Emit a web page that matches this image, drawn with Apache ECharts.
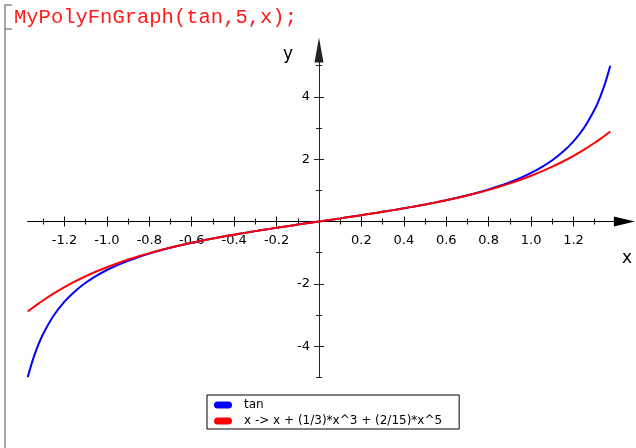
<!DOCTYPE html>
<html>
<head>
<meta charset="utf-8">
<script src="https://cdn.jsdelivr.net/npm/echarts@6/dist/echarts.min.js"></script>
<style>
  html, body { margin: 0; padding: 0; background: #fff; }
  #main { width: 636px; height: 448px; }
</style>
</head>
<body>
<div id="main"></div>
<script>
// sample points (x, tan and degree-5 polynomial)
const xValues = [-1.3734, -1.35, -1.325, -1.3, -1.25, -1.2, -1.15, -1.1, -1.05, -1.0,
  -0.95, -0.9, -0.85, -0.8, -0.75, -0.7, -0.65, -0.6, -0.55, -0.5,
  -0.45, -0.4, -0.35, -0.3, -0.25, -0.2, -0.15, -0.1, -0.05, 0,
  0.05, 0.1, 0.15, 0.2, 0.25, 0.3, 0.35, 0.4, 0.45, 0.5,
  0.55, 0.6, 0.65, 0.7, 0.75, 0.8, 0.85, 0.9, 0.95, 1.0,
  1.05, 1.1, 1.15, 1.2, 1.25, 1.3, 1.325, 1.35, 1.3734];

const tanValues = [-5.0, -4.455, -3.986, -3.602, -3.010, -2.572, -2.235, -1.965, -1.743, -1.557,
  -1.398, -1.260, -1.138, -1.030, -0.932, -0.842, -0.760, -0.684, -0.613, -0.546,
  -0.483, -0.423, -0.365, -0.309, -0.255, -0.203, -0.151, -0.100, -0.050, 0,
  0.050, 0.100, 0.151, 0.203, 0.255, 0.309, 0.365, 0.423, 0.483, 0.546,
  0.613, 0.684, 0.760, 0.842, 0.932, 1.030, 1.138, 1.260, 1.398, 1.557,
  1.743, 1.965, 2.235, 2.572, 3.010, 3.602, 3.986, 4.455, 5.0];

const polyValues = [-2.888, -2.768, -2.645, -2.527, -2.308, -2.108, -1.925, -1.758, -1.606, -1.467,
  -1.339, -1.222, -1.114, -1.014, -0.922, -0.837, -0.757, -0.682, -0.612, -0.546,
  -0.483, -0.423, -0.365, -0.309, -0.255, -0.203, -0.151, -0.100, -0.050, 0,
  0.050, 0.100, 0.151, 0.203, 0.255, 0.309, 0.365, 0.423, 0.483, 0.546,
  0.612, 0.682, 0.757, 0.837, 0.922, 1.014, 1.114, 1.222, 1.339, 1.467,
  1.606, 1.758, 1.925, 2.108, 2.308, 2.527, 2.645, 2.768, 2.888];

const seriesNames = ['tan', 'x -> x + (1/3)*x^3 + (2/15)*x^5'];

// tick marks and labels
const xMajorTicks = [-1.2, -1.0, -0.8, -0.6, -0.4, -0.2, 0.2, 0.4, 0.6, 0.8, 1.0, 1.2];
const xMinorTicks = [-1.3, -1.1, -0.9, -0.7, -0.5, -0.3, -0.1, 0.1, 0.3, 0.5, 0.7, 0.9, 1.1, 1.3];
const xLabels = [-1.2, -1.0, -0.8, -0.6, -0.4, -0.2, 0.2, 0.4, 0.6, 0.8, 1.0, 1.2];
const yMajorTicks = [-4, -2, 2, 4];
const yMinorTicks = [-5, -3, -1, 1, 3, 5];
const yLabels = [-4, -2, 2, 4];

const X_MIN = -1.3734, X_MAX = 1.44;
const Y_MIN = -5, Y_MAX = 5.5;
const FONT = 'DejaVu Sans';

// grid box (px) and where the zero lines fall inside it
const G = { left: 27.7, right: 11.6, top: 50.1, bottom: 70.7 };
const W = 636, H = 448;
const gw = W - G.left - G.right, gh = H - G.top - G.bottom;
const zeroX = G.left + (0 - X_MIN) / (X_MAX - X_MIN) * gw;
const zeroY = G.top + (Y_MAX - 0) / (Y_MAX - Y_MIN) * gh;

const chart = echarts.init(document.getElementById('main'), null, { renderer: 'canvas' });

// axes are pushed onto the zero lines with offset
function xAxisOf(position, ticks, len, withLine, withLabels) {
  const off = position === 'bottom' ? zeroY - (H - G.bottom) : G.top - zeroY;
  return {
    type: 'value', position: position, offset: off, min: X_MIN, max: X_MAX,
    axisLine: {
      show: withLine, onZero: false,
      symbol: ['none', 'triangle'], symbolSize: [10, 21],
      lineStyle: { color: '#000', width: 1 }
    },
    axisTick: { show: true, customValues: ticks, length: len, lineStyle: { color: '#000', width: 1 } },
    axisLabel: withLabels ? {
      show: true, customValues: xLabels, margin: 13,
      formatter: v => v.toFixed(1),
      color: '#000', fontFamily: FONT, fontSize: 13
    } : { show: false },
    splitLine: { show: false }
  };
}

function yAxisOf(position, ticks, len, withLine, withLabels) {
  const off = position === 'left' ? G.left - zeroX : zeroX - (W - G.right);
  return {
    type: 'value', position: position, offset: off, min: Y_MIN, max: Y_MAX,
    axisLine: {
      show: withLine, onZero: false,
      symbol: ['none', 'triangle'], symbolSize: [9, 25],
      lineStyle: { color: '#222', width: 1 }
    },
    axisTick: { show: true, customValues: ticks, length: len, lineStyle: { color: '#222', width: 1 } },
    axisLabel: withLabels ? {
      show: true, customValues: yLabels, margin: 9,
      formatter: v => String(v),
      color: '#000', fontFamily: FONT, fontSize: 13
    } : { show: false },
    splitLine: { show: false }
  };
}

const pill = 'path://M3.5,0 L14.5,0 A3.5,3.5 0 0 1 14.5,7 L3.5,7 A3.5,3.5 0 0 1 3.5,0 Z';

const option = {
  animation: false,
  backgroundColor: '#fff',
  grid: { left: G.left, right: G.right, top: G.top, bottom: G.bottom, outerBoundsMode: 'none' },
  xAxis: [
    xAxisOf('bottom', xMajorTicks, 5, true, true),
    xAxisOf('top', xMajorTicks, 5, false, false),
    xAxisOf('bottom', xMinorTicks, 3, false, false),
    xAxisOf('top', xMinorTicks, 3, false, false)
  ],
  yAxis: [
    yAxisOf('left', yMajorTicks, 5, true, true),
    yAxisOf('right', yMajorTicks, 5, false, false),
    yAxisOf('left', yMinorTicks, 3, false, false),
    yAxisOf('right', yMinorTicks, 3, false, false)
  ],
  legend: {
    data: seriesNames,
    orient: 'vertical',
    left: 207, top: 395,
    padding: [4, 17, 2, 7],
    itemGap: 4,
    itemWidth: 18, itemHeight: 7,
    icon: pill,
    borderColor: '#000', borderWidth: 1,
    textStyle: { color: '#000', fontFamily: FONT, fontSize: 12, padding: [0, 0, 0, 7] }
  },
  series: [
    {
      name: seriesNames[0], type: 'line', showSymbol: false, symbol: 'none',
      smooth: 0.3,
      color: '#0000ff', lineStyle: { color: '#0000ff', width: 2 },
      data: xValues.map((x, i) => [x, tanValues[i]])
    },
    {
      name: seriesNames[1], type: 'line', showSymbol: false, symbol: 'none',
      smooth: 0.3,
      color: '#ff0000', lineStyle: { color: '#ff0000', width: 2 },
      data: xValues.map((x, i) => [x, polyValues[i]])
    }
  ],
  graphic: [
    { type: 'polyline', shape: { points: [[12, 5], [5, 5], [5, 448]] }, style: { stroke: '#888', lineWidth: 1.5, fill: null } },
    { type: 'line', shape: { x1: 5, y1: 29, x2: 12, y2: 29 }, style: { stroke: '#888', lineWidth: 1.5 } },
    { type: 'text', left: 14, top: 7, style: { text: 'MyPolyFnGraph(tan,5,x);', fill: '#ff1a1a', font: '20.5px "Liberation Mono"' } },
    { type: 'text', x: 627, y: 259, style: { text: 'x', fill: '#000', font: '17px "DejaVu Sans"', align: 'center', verticalAlign: 'middle' } },
    { type: 'text', x: 288, y: 55, style: { text: 'y', fill: '#000', font: '17px "DejaVu Sans"', align: 'center', verticalAlign: 'middle' } }
  ]
};

chart.setOption(option);
</script>
</body>
</html>
